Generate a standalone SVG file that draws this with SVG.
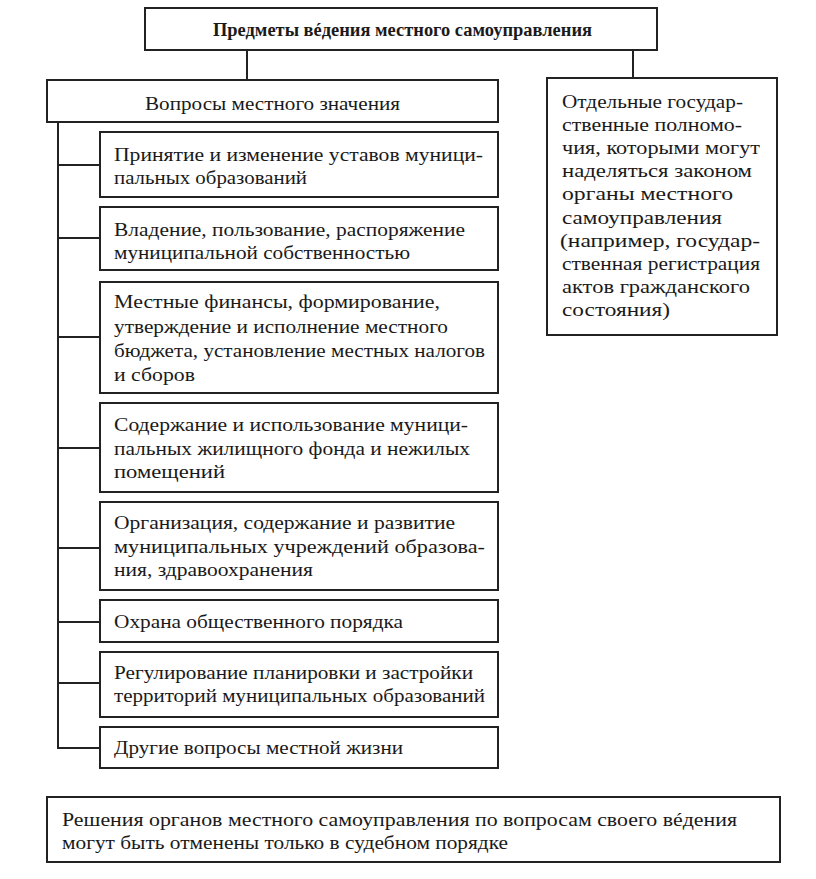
<svg xmlns="http://www.w3.org/2000/svg" width="816" height="879" viewBox="0 0 816 879">
<style>
.box{fill:#fff;stroke:#222;stroke-width:2}
.t{font-family:"Liberation Serif","Times New Roman",serif;font-size:19px;fill:#1a1a1a}
.b{font-weight:bold;font-size:18.5px}
.c{stroke:#222;stroke-width:2;fill:none}
</style>
<rect width="816" height="879" fill="#fff"/>
<g id="connectors">
<line class="c" x1="247" y1="50" x2="247" y2="80"/>
<line class="c" x1="633" y1="50" x2="633" y2="78"/>
<polyline class="c" points="58,122 58,748 100,748"/>
<line class="c" x1="58" y1="165" x2="100" y2="165"/>
<line class="c" x1="58" y1="238" x2="100" y2="238"/>
<line class="c" x1="58" y1="337" x2="100" y2="337"/>
<line class="c" x1="58" y1="448" x2="100" y2="448"/>
<line class="c" x1="58" y1="548" x2="100" y2="548"/>
<line class="c" x1="58" y1="622" x2="100" y2="622"/>
<line class="c" x1="58" y1="683" x2="100" y2="683"/>
</g>
<g id="root">
<rect class="box" x="145" y="8" width="512" height="42"/>
<text class="t b" x="213" y="36" textLength="379" lengthAdjust="spacingAndGlyphs">Предметы вéдения местного самоуправления</text>
</g>
<g id="local">
<rect class="box" x="47" y="80" width="451" height="42"/>
<text class="t" x="145" y="110" textLength="255" lengthAdjust="spacingAndGlyphs">Вопросы местного значения</text>
</g>
<g id="n1">
<rect class="box" x="100" y="132" width="398" height="65"/>
<text class="t" x="114" y="161" textLength="369" lengthAdjust="spacingAndGlyphs">Принятие и изменение уставов муници-</text>
<text class="t" x="114" y="184" textLength="193" lengthAdjust="spacingAndGlyphs">пальных образований</text>
</g>
<g id="n2">
<rect class="box" x="100" y="207" width="398" height="63"/>
<text class="t" x="114" y="236" textLength="351" lengthAdjust="spacingAndGlyphs">Владение, пользование, распоряжение</text>
<text class="t" x="114" y="259" textLength="296" lengthAdjust="spacingAndGlyphs">муниципальной собственностью</text>
</g>
<g id="n3">
<rect class="box" x="100" y="282" width="398" height="111"/>
<text class="t" x="114" y="308" textLength="326" lengthAdjust="spacingAndGlyphs">Местные финансы, формирование,</text>
<text class="t" x="114" y="333" textLength="334" lengthAdjust="spacingAndGlyphs">утверждение и исполнение местного</text>
<text class="t" x="114" y="357" textLength="371" lengthAdjust="spacingAndGlyphs">бюджета, установление местных налогов</text>
<text class="t" x="114" y="381" textLength="81" lengthAdjust="spacingAndGlyphs">и сборов</text>
</g>
<g id="n4">
<rect class="box" x="100" y="403" width="398" height="89"/>
<text class="t" x="114" y="431" textLength="354" lengthAdjust="spacingAndGlyphs">Содержание и использование муници-</text>
<text class="t" x="114" y="455" textLength="356" lengthAdjust="spacingAndGlyphs">пальных жилищного фонда и нежилых</text>
<text class="t" x="114" y="478" textLength="111" lengthAdjust="spacingAndGlyphs">помещений</text>
</g>
<g id="n5">
<rect class="box" x="100" y="502" width="398" height="88"/>
<text class="t" x="114" y="529" textLength="341" lengthAdjust="spacingAndGlyphs">Организация, содержание и развитие</text>
<text class="t" x="114" y="553" textLength="371" lengthAdjust="spacingAndGlyphs">муниципальных учреждений образова-</text>
<text class="t" x="114" y="576" textLength="199" lengthAdjust="spacingAndGlyphs">ния, здравоохранения</text>
</g>
<g id="n6">
<rect class="box" x="100" y="600" width="398" height="42"/>
<text class="t" x="114" y="628" textLength="289" lengthAdjust="spacingAndGlyphs">Охрана общественного порядка</text>
</g>
<g id="n7">
<rect class="box" x="100" y="652" width="398" height="65"/>
<text class="t" x="114" y="679" textLength="359" lengthAdjust="spacingAndGlyphs">Регулирование планировки и застройки</text>
<text class="t" x="114" y="702" textLength="371" lengthAdjust="spacingAndGlyphs">территорий муниципальных образований</text>
</g>
<g id="n8">
<rect class="box" x="100" y="727" width="398" height="41"/>
<text class="t" x="114" y="754" textLength="289" lengthAdjust="spacingAndGlyphs">Другие вопросы местной жизни</text>
</g>
<g id="state">
<rect class="box" x="547" y="78" width="230" height="257"/>
<text class="t" x="562" y="108" textLength="181" lengthAdjust="spacingAndGlyphs">Отдельные государ-</text>
<text class="t" x="562" y="131" textLength="180" lengthAdjust="spacingAndGlyphs">ственные полномо-</text>
<text class="t" x="562" y="154" textLength="198" lengthAdjust="spacingAndGlyphs">чия, которыми могут</text>
<text class="t" x="562" y="177" textLength="190" lengthAdjust="spacingAndGlyphs">наделяться законом</text>
<text class="t" x="562" y="200" textLength="171" lengthAdjust="spacingAndGlyphs">органы местного</text>
<text class="t" x="562" y="224" textLength="160" lengthAdjust="spacingAndGlyphs">самоуправления</text>
<text class="t" x="560" y="247" textLength="200" lengthAdjust="spacingAndGlyphs">(например, государ-</text>
<text class="t" x="562" y="270" textLength="198" lengthAdjust="spacingAndGlyphs">ственная регистрация</text>
<text class="t" x="562" y="293" textLength="188" lengthAdjust="spacingAndGlyphs">актов гражданского</text>
<text class="t" x="562" y="316" textLength="108" lengthAdjust="spacingAndGlyphs">состояния)</text>
</g>
<g id="note">
<rect class="box" x="47" y="797" width="733" height="65"/>
<text class="t" x="62" y="826" textLength="675" lengthAdjust="spacingAndGlyphs">Решения органов местного самоуправления по вопросам своего вéдения</text>
<text class="t" x="62" y="849" textLength="446" lengthAdjust="spacingAndGlyphs">могут быть отменены только в судебном порядке</text>
</g>
</svg>
